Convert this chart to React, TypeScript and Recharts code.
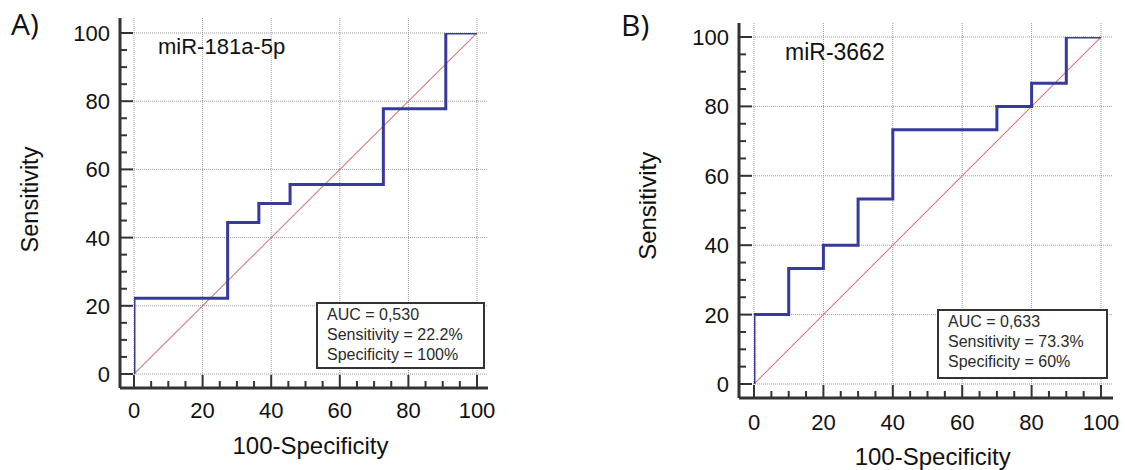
import React from 'react';
import { LineChart, Line, XAxis, YAxis, CartesianGrid } from 'recharts';

// Tick values (every 5, labels every 20)
const axisTicks = [0, 5, 10, 15, 20, 25, 30, 35, 40, 45, 50, 55, 60, 65, 70, 75, 80, 85, 90, 95, 100];
const labelTicks = [0, 20, 40, 60, 80, 100];

// Panel A: miR-181a-5p ROC corner points (100-Specificity, Sensitivity)
const rocA_fpr = [0, 0, 27.3, 36.4, 45.5, 72.7, 90.9, 100];
const rocA_tpr = [0, 22.2, 44.4, 50, 55.6, 77.8, 100, 100];

// Panel B: miR-3662 ROC corner points
const rocB_fpr = [0, 0, 10, 20, 30, 40, 70, 80, 90, 100];
const rocB_tpr = [0, 20, 33.3, 40, 53.3, 73.3, 80, 86.7, 100, 100];

// Reference diagonal
const diag_x = [0, 100];
const diag_y = [0, 100];

const panelLetters = ['A)', 'B)'];
const markerNames = ['miR-181a-5p', 'miR-3662'];
const statsA = ['AUC = 0,530', 'Sensitivity = 22.2%', 'Specificity = 100%'];
const statsB = ['AUC = 0,633', 'Sensitivity = 73.3%', 'Specificity = 60%'];
const xTitle = '100-Specificity';
const yTitle = 'Sensitivity';

const toPts = (xs: number[], ys: number[]) => xs.map((x, i) => ({ x, y: ys[i] }));

const FONT = "'Liberation Sans', Arial, sans-serif";
const AXIS = '#333333';

const XTick = (props: any) => {
  const { x, y, payload, fs, dy } = props;
  const v = payload.value;
  const major = labelTicks.includes(v);
  return (
    <g>
      <line x1={x} x2={x} y1={y} y2={y - (major ? 13 : 7)} stroke={AXIS} strokeWidth={2} />
      {major && (
        <text x={x} y={y + dy} textAnchor="middle" fontSize={fs} fill="#111" fontFamily={FONT}>
          {v}
        </text>
      )}
    </g>
  );
};

const YTick = (props: any) => {
  const { x, y, payload, fs } = props;
  const v = payload.value;
  const major = labelTicks.includes(v);
  return (
    <g>
      <line x1={x} x2={x + (major ? 13 : 7)} y1={y} y2={y} stroke={AXIS} strokeWidth={2} />
      {major && (
        <text x={x - 10} y={y + fs * 0.36} textAnchor="end" fontSize={fs} fill="#111" fontFamily={FONT}>
          {v}
        </text>
      )}
    </g>
  );
};

type PanelProps = {
  width: number;
  top: number;
  right: number;
  yWidth: number;
  xHeight: number;
  padX: { left: number; right: number };
  padY: { top: number; bottom: number };
  roc: { x: number; y: number }[];
  fs: number;
  xdy: number;
};

const Panel = (p: PanelProps) => (
  <LineChart
    width={p.width}
    height={470}
    margin={{ top: p.top, right: p.right, left: 0, bottom: 0 }}
  >
    <CartesianGrid
      horizontalValues={labelTicks}
      verticalValues={labelTicks}
      stroke="#9a9a9a"
      strokeDasharray="1 1"
    />
    <XAxis
      type="number"
      dataKey="x"
      domain={[0, 100]}
      ticks={axisTicks}
      interval={0}
      allowDataOverflow
      padding={p.padX}
      height={p.xHeight}
      axisLine={{ stroke: AXIS, strokeWidth: 3 }}
      tickLine={false}
      tickSize={0}
      tickMargin={0}
      tick={(tp: any) => <XTick {...tp} fs={p.fs} dy={p.xdy} />}
    />
    <YAxis
      type="number"
      dataKey="y"
      domain={[0, 100]}
      ticks={axisTicks}
      interval={0}
      allowDataOverflow
      padding={p.padY}
      width={p.yWidth}
      axisLine={{ stroke: AXIS, strokeWidth: 3 }}
      tickLine={false}
      tickSize={0}
      tickMargin={0}
      tick={(tp: any) => <YTick {...tp} fs={p.fs} />}
    />
    <Line
      data={toPts(diag_x, diag_y)}
      dataKey="y"
      type="linear"
      stroke="#d47a7a"
      strokeWidth={1.1}
      dot={false}
      activeDot={false}
      isAnimationActive={false}
    />
    <Line
      data={p.roc}
      dataKey="y"
      type="stepAfter"
      stroke="#363a9c"
      strokeWidth={3}
      dot={false}
      activeDot={false}
      isAnimationActive={false}
    />
  </LineChart>
);

const StatBox = ({ left, top, width, height, lines }: any) => (
  <div
    style={{
      position: 'absolute',
      left,
      top,
      width,
      height,
      boxSizing: 'border-box',
      border: '2px solid #333',
      background: '#fff',
      paddingLeft: 9,
      paddingTop: 1,
      fontFamily: FONT,
      fontSize: 16,
      lineHeight: '20px',
      color: '#2a2a2a',
      whiteSpace: 'nowrap',
    }}
  >
    {lines.map((l: string, i: number) => (
      <div key={i}>{l}</div>
    ))}
  </div>
);

export default function App() {
  return (
    <div style={{ position: 'absolute', left: 0, top: 0, width: 1125, height: 470, background: '#fff', overflow: 'hidden' }}>
      <div style={{ position: 'absolute', left: 0, top: 0 }}>
        <Panel
          width={500}
          top={18}
          right={12}
          yWidth={120}
          xHeight={82}
          padX={{ left: 14, right: 11 }}
          padY={{ top: 15, bottom: 14 }}
          roc={toPts(rocA_fpr, rocA_tpr)}
          fs={22}
          xdy={30}
        />
      </div>
      <div style={{ position: 'absolute', left: 600, top: 0 }}>
        <Panel
          width={525}
          top={23}
          right={12}
          yWidth={139}
          xHeight={72}
          padX={{ left: 15, right: 12 }}
          padY={{ top: 14, bottom: 14 }}
          roc={toPts(rocB_fpr, rocB_tpr)}
          fs={22}
          xdy={32}
        />
      </div>
      <StatBox left={316} top={302} width={169} height={67} lines={statsA} />
      <StatBox left={937} top={309} width={171} height={70} lines={statsB} />
      <svg
        width={1125}
        height={470}
        style={{ position: 'absolute', left: 0, top: 0, pointerEvents: 'none' }}
      >
        <text x={11} y={35} fontSize={30} fontFamily="'Open Sans', sans-serif" fill="#111">{panelLetters[0]}</text>
        <text x={621} y={36} fontSize={30} fontFamily="'Open Sans', sans-serif" fill="#111">{panelLetters[1]}</text>
        <text x={158} y={54} fontSize={22} fontFamily={FONT} fill="#111">{markerNames[0]}</text>
        <text x={785} y={60} fontSize={23} fontFamily={FONT} fill="#111">{markerNames[1]}</text>
        <text x={310.5} y={454} fontSize={24} textAnchor="middle" fontFamily={FONT} fill="#111">{xTitle}</text>
        <text x={932.7} y={464.5} fontSize={24} textAnchor="middle" fontFamily={FONT} fill="#111">{xTitle}</text>
        <text x={37.7} y={199.5} fontSize={23.5} textAnchor="middle" fontFamily={FONT} fill="#111" transform="rotate(-90 37.7 199.5)">{yTitle}</text>
        <text x={656} y={205.8} fontSize={24} textAnchor="middle" fontFamily={FONT} fill="#111" transform="rotate(-90 656 205.8)">{yTitle}</text>
      </svg>
    </div>
  );
}
